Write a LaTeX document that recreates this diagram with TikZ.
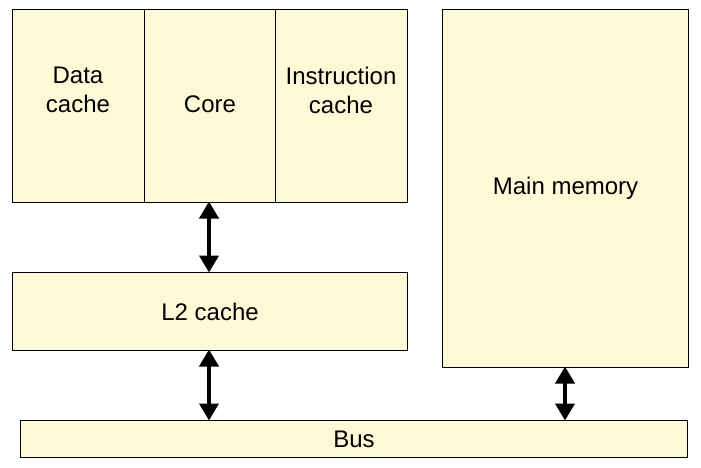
\documentclass[tikz,border=0pt]{standalone}
\usepackage{fontspec}
\setmainfont{Liberation Sans}
\usetikzlibrary{arrows.meta}
\definecolor{boxfill}{HTML}{FFFAD6}
\tikzset{
  blk/.style={draw=black, line width=1.1pt, fill=boxfill, inner sep=0pt},
  lbl/.style={font=\fontsize{24pt}{29pt}\selectfont, align=center, inner sep=0pt},
  link/.style={line width=3.8pt, {Triangle[length=17pt,width=19pt]}-{Triangle[length=17pt,width=19pt]}, shorten <=-0.5pt, shorten >=-0.5pt}
}
\begin{document}
\begin{tikzpicture}[x=1pt,y=-1pt]
\useasboundingbox (0,0) rectangle (701,468);
% top group
\node[blk, minimum width=132pt, minimum height=193pt, anchor=north west] (dc) at (12,9) {};
\node[blk, minimum width=131pt, minimum height=193pt, anchor=north west] (core) at (144,9) {};
\node[blk, minimum width=132pt, minimum height=193pt, anchor=north west] (ic) at (275,9) {};
\node[lbl] (dct) at (78,90) {Data\\cache};
\node[lbl] (coret) at (210,104) {Core};
\node[lbl] (ict) at (341,90) {Instruction\\cache};
% L2
\node[blk, minimum width=395pt, minimum height=78pt, anchor=north west] (l2) at (12,272) {};
\node[lbl] (l2t) at (l2.center) {L2 cache};
% main memory
\node[blk, minimum width=246pt, minimum height=358pt, anchor=north west] (mm) at (442,9) {};
\node[lbl] (mmt) at (mm.center) {Main memory};
% bus
\node[blk, minimum width=667pt, minimum height=37pt, anchor=north west] (bus) at (20,420) {};
\node[lbl] (bust) at (bus.center) {Bus};
% connectors
\coordinate (c1) at (209,202);
\coordinate (c2) at (209,272);
\coordinate (c3) at (209,350);
\coordinate (c4) at (209,420);
\coordinate (c5) at (565,367);
\coordinate (c6) at (565,420);
\draw[link] (c1) -- (c2);
\draw[link] (c3) -- (c4);
\draw[link] (c5) -- (c6);
\end{tikzpicture}
\end{document}
